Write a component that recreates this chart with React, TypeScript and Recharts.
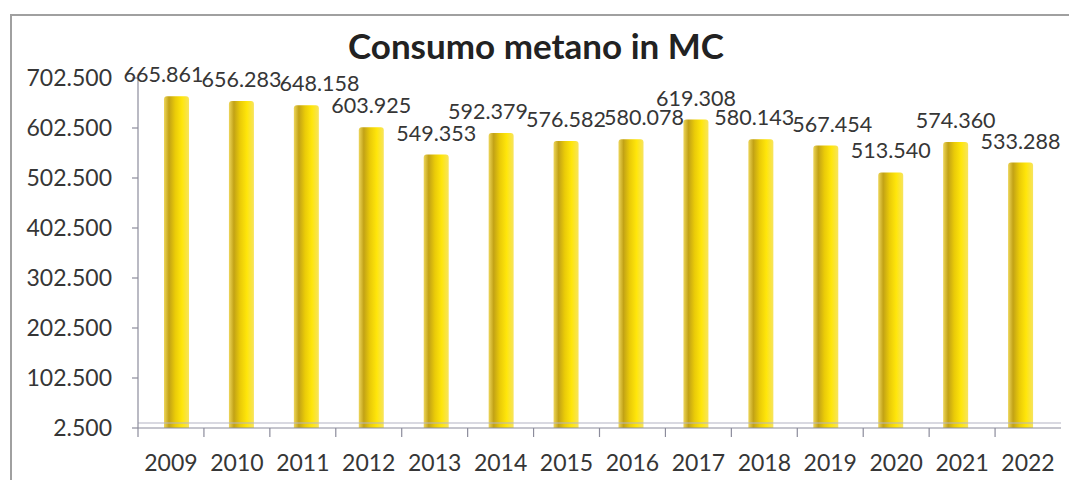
import React from 'react';
import { BarChart, Bar, XAxis, YAxis, LabelList, ReferenceLine } from 'recharts';

const years = ['2009', '2010', '2011', '2012', '2013', '2014', '2015', '2016', '2017', '2018', '2019', '2020', '2021', '2022'];
const consumo = [665861, 656283, 648158, 603925, 549353, 592379, 576582, 580078, 619308, 580143, 567454, 513540, 574360, 533288];
const yTicks = [2500, 102500, 202500, 302500, 402500, 502500, 602500, 702500];
const Y_MIN = 2500;
const Y_MAX = 702500;

const data = years.map((y, i) => ({ year: y, value: consumo[i] }));

const fmt = (v: number) => {
  const s = Math.round(v).toString();
  return s.replace(/\B(?=(\d{3})+(?!\d))/g, '.');
};

const FONT = 'Lato, "Open Sans", sans-serif';
const TEXT = '#363636';
const AXIS = '#8c8c9c';

const W = 1069;
const H = 480;
const PLOT_LEFT = 138;
const PLOT_RIGHT = 8;
const PLOT_W = W - PLOT_LEFT - PLOT_RIGHT;
const BAND = PLOT_W / years.length;
const BAR_PAD_L = 6;
const BAR_PAD_R = 8;
const BAR_BAND = (PLOT_W - BAR_PAD_L - BAR_PAD_R) / years.length;

const LIFT = 14;
const LABEL_W = 76;
const LABEL_H = 17;

// place value labels above bars; spread horizontally the ones that would collide
const labelLayout = (x: number, y: number, width: number, height: number, index: number) => {
  const v = consumo[index];
  const k = height / (v - Y_MIN);
  const base = y + height;
  const cx0 = x + width / 2 - index * BAR_BAND;
  const items = consumo.map((val, j) => ({ cx: cx0 + j * BAR_BAND, by: base - (val - Y_MIN) * k - LIFT }));
  const n = items.length;
  let i = 0;
  while (i < n) {
    let j = i;
    while (
      j + 1 < n &&
      Math.abs(items[j + 1].by - items[j].by) < LABEL_H &&
      items[j + 1].cx - items[j].cx < LABEL_W + 2
    ) {
      j++;
    }
    if (j > i) {
      const need = LABEL_W + 2;
      const mid = (items[i].cx + items[j].cx) / 2;
      const count = j - i;
      for (let m = i; m <= j; m++) items[m].cx = mid + (m - i - count / 2) * need;
    }
    i = j + 1;
  }
  return items[index];
};

const XTick = (props: any) => {
  const { x, y, payload } = props;
  return (
    <g>
      <line x1={x - BAND / 2} y1={y - 27} x2={x - BAND / 2} y2={y - 18} stroke={AXIS} strokeWidth={1.2} />
      <text x={x} y={y} dy="0.71em" textAnchor="middle" fontSize={23} fontFamily={FONT} fill={TEXT}>
        {payload.value}
      </text>
    </g>
  );
};

const ValueLabel = (props: any) => {
  const { x, y, width, height, index, value } = props;
  const p = labelLayout(Number(x), Number(y), Number(width), Number(height), index);
  return (
    <text x={p.cx} y={p.by} textAnchor="middle" fontSize={21.5} fontFamily={FONT} fill={TEXT}>
      {fmt(value)}
    </text>
  );
};

export default function App() {
  return (
    <div style={{ position: 'absolute', left: 0, top: 0, width: W, height: H, background: '#fff', overflow: 'hidden' }}>
      <div
        style={{
          position: 'absolute',
          left: 10,
          top: 14,
          width: W - 10,
          height: H - 14,
          borderTop: '2px solid #a0a0a0',
          borderLeft: '2px solid #a0a0a0',
          boxSizing: 'border-box',
        }}
      />
      <div
        style={{
          position: 'absolute',
          left: 0,
          width: 1072,
          top: 25,
          textAlign: 'center',
          fontFamily: FONT,
          fontWeight: 700,
          fontSize: 35,
          color: '#222',
          lineHeight: '40px',
        }}
      >
        Consumo metano in MC
      </div>
      <div style={{ position: 'absolute', left: 0, top: 0 }}>
        <BarChart
          width={W}
          height={H}
          data={data}
          margin={{ top: 78, right: PLOT_RIGHT, left: 10, bottom: 12 }}
        >
          <defs>
            <linearGradient id="gold" x1="0" y1="0" x2="1" y2="0">
              <stop offset="0%" stopColor="#eed65a" />
              <stop offset="20%" stopColor="#c2a216" />
              <stop offset="45%" stopColor="#eacb08" />
              <stop offset="72%" stopColor="#ffe60a" />
              <stop offset="100%" stopColor="#f7e45e" />
            </linearGradient>
          </defs>
          <XAxis xAxisId="bars" dataKey="year" hide height={0} padding={{ left: BAR_PAD_L, right: BAR_PAD_R }} />
          <XAxis
            xAxisId="main"
            dataKey="year"
            height={40}
            stroke={AXIS}
            strokeWidth={1.2}
            tickLine={false}
            tick={<XTick />}
            tickMargin={27}
            tickSize={0}
            interval={0}
          />
          <YAxis
            width={128}
            domain={[Y_MIN, Y_MAX]}
            ticks={yTicks}
            type="number"
            allowDataOverflow
            stroke={AXIS}
            strokeWidth={1.2}
            tickSize={6}
            tickMargin={20}
            tickFormatter={fmt}
            tick={{ fontSize: 23, fontFamily: FONT, fill: TEXT }}
          />
          <ReferenceLine xAxisId="main" y={12500} stroke="#b4b4c4" strokeWidth={1.2} />
          <Bar
            xAxisId="bars"
            dataKey="value"
            fill="url(#gold)"
            barSize={25}
            isAnimationActive={false}
            radius={[3, 3, 0, 0]}
          >
            <LabelList dataKey="value" content={<ValueLabel />} />
          </Bar>
        </BarChart>
      </div>
    </div>
  );
}
